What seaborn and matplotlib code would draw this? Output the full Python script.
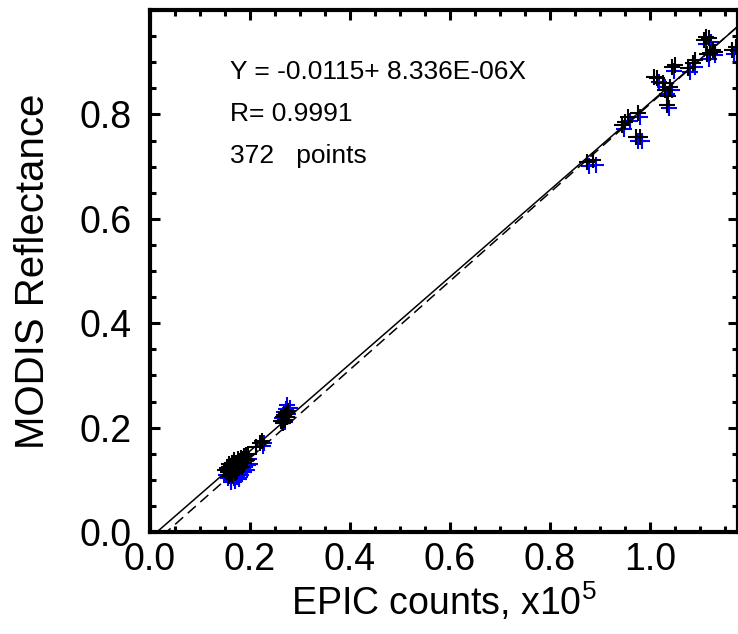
import numpy as np
import seaborn as sns
import matplotlib.pyplot as plt
from matplotlib.ticker import MultipleLocator

# EPIC counts (x1e5) vs MODIS reflectance, two channels (blue drawn under black)
black_x = [0.150, 0.153, 0.155, 0.157, 0.158, 0.160, 0.161, 0.162, 0.163, 0.165, 0.166, 0.167,
           0.168, 0.170, 0.171, 0.172, 0.173, 0.175, 0.176, 0.177, 0.178, 0.180, 0.181, 0.182,
           0.184, 0.185, 0.187, 0.188, 0.190, 0.192, 0.194, 0.196, 0.158, 0.164, 0.169, 0.174,
           0.212, 0.220, 0.224,
           0.262, 0.265, 0.268, 0.270, 0.272, 0.274, 0.276, 0.266,
           0.874, 0.886, 0.944, 0.950, 0.956, 0.972, 0.980, 0.976, 1.008, 1.014, 1.026, 1.030,
           1.034, 1.036, 1.040, 1.044, 1.050, 1.076, 1.086, 1.090, 1.108, 1.112, 1.118, 1.113,
           1.120, 1.126, 1.130, 1.164, 1.172]
black_y = [0.118, 0.122, 0.115, 0.125, 0.130, 0.120, 0.112, 0.127, 0.133, 0.118, 0.124, 0.138,
           0.129, 0.121, 0.115, 0.133, 0.126, 0.140, 0.131, 0.122, 0.136, 0.128, 0.142, 0.134,
           0.125, 0.139, 0.145, 0.132, 0.140, 0.148, 0.137, 0.150, 0.108, 0.110, 0.113, 0.117,
           0.162, 0.170, 0.175,
           0.212, 0.220, 0.225, 0.215, 0.228, 0.220, 0.232, 0.208,
           0.709, 0.712, 0.780, 0.786, 0.795, 0.757, 0.757, 0.802, 0.872, 0.870, 0.860, 0.847,
           0.818, 0.835, 0.853, 0.891, 0.895, 0.889, 0.898, 0.905, 0.943, 0.948, 0.946, 0.915,
           0.917, 0.923, 0.920, 0.923, 0.930]

blue_x = [0.152, 0.156, 0.159, 0.161, 0.163, 0.165, 0.167, 0.169, 0.171, 0.173, 0.175, 0.177,
          0.179, 0.181, 0.183, 0.185, 0.187, 0.189, 0.191, 0.193, 0.195, 0.197, 0.200, 0.162,
          0.170, 0.178,
          0.225, 0.228,
          0.264, 0.268, 0.272, 0.276, 0.279, 0.270, 0.274,
          0.878, 0.891, 0.948, 0.960, 0.976, 0.984, 0.980, 1.018, 1.030, 1.034, 1.038, 1.044,
          1.048, 1.080, 1.090, 1.112, 1.122, 1.117, 1.130, 1.168, 1.176]
blue_y = [0.110, 0.104, 0.115, 0.100, 0.108, 0.120, 0.103, 0.112, 0.124, 0.106, 0.117, 0.101,
          0.128, 0.110, 0.120, 0.132, 0.114, 0.124, 0.136, 0.118, 0.128, 0.140, 0.131, 0.095,
          0.098, 0.104,
          0.165, 0.170,
          0.218, 0.230, 0.236, 0.226, 0.238, 0.210, 0.244,
          0.702, 0.704, 0.772, 0.788, 0.750, 0.750, 0.795, 0.862, 0.852, 0.840, 0.812, 0.846,
          0.883, 0.881, 0.890, 0.935, 0.938, 0.907, 0.914, 0.915, 0.922]

# fitted line (solid) and reference line (dashed): intercept, slope per 1e5 counts
fit_coef = [-0.0115, 0.8336]
ref_coef = [-0.028, 0.848]
line_x = [0.0, 1.2]

sns.set_style("ticks")
plt.rcParams['font.family'] = ['Liberation Sans', 'DejaVu Sans']
plt.rcParams['mathtext.default'] = 'regular'
plt.rcParams['text.color'] = 'black'
plt.rcParams['axes.labelcolor'] = 'black'
plt.rcParams['xtick.color'] = 'black'
plt.rcParams['ytick.color'] = 'black'

fig = plt.figure(figsize=(7.38, 6.34), dpi=100)
ax = fig.add_axes([150/738, 102/634, 588/738, 522/634])

sns.scatterplot(x=blue_x, y=blue_y, marker='+', color='#0000ff', s=130, linewidth=1.5, ax=ax, zorder=2)
sns.scatterplot(x=black_x, y=black_y, marker='+', color='black', s=130, linewidth=1.5, ax=ax, zorder=3)

lx = np.array(line_x)
sns.lineplot(x=lx, y=fit_coef[0] + fit_coef[1] * lx, color='black', lw=1.1, ax=ax, zorder=4)
sns.lineplot(x=lx, y=ref_coef[0] + ref_coef[1] * lx, color='black', lw=1.1, ls=(0, (7, 4)), ax=ax, zorder=4)

ax.set_xlim(0, 1.176)
ax.set_ylim(0, 1.0)
ax.set_xticks([0.0, 0.2, 0.4, 0.6, 0.8, 1.0])
ax.set_yticks([0.0, 0.2, 0.4, 0.6, 0.8])
ax.set_xticklabels(['0.0', '0.2', '0.4', '0.6', '0.8', '1.0'])
ax.set_yticklabels(['0.0', '0.2', '0.4', '0.6', '0.8'])
ax.xaxis.set_minor_locator(MultipleLocator(0.05))
ax.yaxis.set_minor_locator(MultipleLocator(0.05))
ax.tick_params(which='both', direction='in', top=True, right=True, width=2.2, labelsize=27)
ax.tick_params(which='major', length=7)
ax.tick_params(which='minor', length=4)
ax.tick_params(axis='x', pad=7)
ax.tick_params(axis='y', pad=13)
for sp in ax.spines.values():
    sp.set_linewidth(3)
    sp.set_color('black')

ax.set_xlabel('EPIC counts, x10$^5$', fontsize=27, labelpad=2)
ax.set_ylabel('MODIS Reflectance', fontsize=29, labelpad=20)

ax.text(0.136, 0.881, 'Y = -0.0115+ 8.336E-06X', transform=ax.transAxes, fontsize=19, va='center')
ax.text(0.136, 0.800, 'R= 0.9991', transform=ax.transAxes, fontsize=19, va='center')
ax.text(0.136, 0.720, '372   points', transform=ax.transAxes, fontsize=19, va='center')

fig.savefig('out.png', dpi=100)
